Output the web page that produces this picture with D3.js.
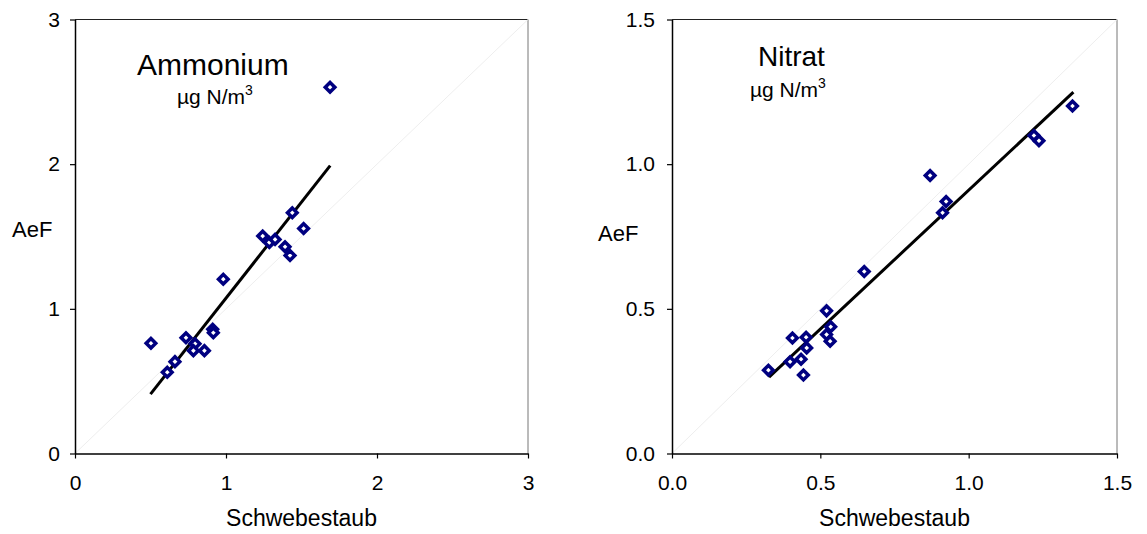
<!DOCTYPE html>
<html>
<head>
<meta charset="utf-8">
<script src="https://cdn.jsdelivr.net/npm/d3@7"></script>
<style>
  body { margin: 0; background: #fff; }
  svg { display: block; font-family: "Liberation Sans", Arial, sans-serif; }
</style>
</head>
<body>
<svg width="1147" height="534"></svg>
<script>
// Ammonium, µg N/m3 : Schwebestaub (x) vs AeF (y)
const ammX = [0.503, 0.611, 0.662, 0.735, 0.795, 0.784, 0.857, 0.912, 0.916, 0.982,
              1.243, 1.287, 1.325, 1.391, 1.424, 1.439, 1.514, 1.689];
const ammY = [0.762, 0.562, 0.635, 0.800, 0.758, 0.711, 0.711, 0.859, 0.835, 1.205,
              1.503, 1.459, 1.480, 1.429, 1.369, 1.664, 1.555, 2.532];
const ammTrendX = [0.50, 1.69];
const ammTrendY = [0.41, 1.99];
const ammTicks = [0, 1, 2, 3];

// Nitrat, µg N/m3
const nitX = [0.325, 0.398, 0.406, 0.435, 0.443, 0.452, 0.454, 0.521, 0.521, 0.535,
              0.533, 0.648, 0.870, 0.912, 0.924, 1.220, 1.237, 1.350];
const nitY = [0.288, 0.317, 0.399, 0.326, 0.271, 0.402, 0.365, 0.493, 0.411, 0.438,
              0.388, 0.629, 0.961, 0.832, 0.871, 1.099, 1.081, 1.201];
const nitTrendX = [0.327, 1.353];
const nitTrendY = [0.264, 1.249];
const nitTicks = [0, 0.5, 1.0, 1.5];

const panels = [
  { name: "Ammonium", xs: ammX, ys: ammY, tx: ammTrendX, ty: ammTrendY, ticks: ammTicks,
    max: 3, fmt: d3.format("d"), left: 75, right: 528, yPad: 10,
    title: { x: 137, y: 75, size: 30 }, unit: { x: 177, y: 104 },
    ylab: { x: 12, y: 237 } },
  { name: "Nitrat", xs: nitX, ys: nitY, tx: nitTrendX, ty: nitTrendY, ticks: nitTicks,
    max: 1.5, fmt: d3.format(".1f"), left: 672, right: 1117, yPad: 12,
    title: { x: 758, y: 66, size: 28 }, unit: { x: 750, y: 97 },
    ylab: { x: 598, y: 241 } }
];

const plotTop = 19.5, plotBottom = 453.5;
const svg = d3.select("svg");
const diamond = "M0,-4.8L4.8,0L0,4.8L-4.8,0Z";

panels.forEach(p => {
  const x = d3.scaleLinear().domain([0, p.max]).range([p.left, p.right]);
  const y = d3.scaleLinear().domain([0, p.max]).range([plotBottom, plotTop]);
  const g = svg.append("g");

  // frame top / right
  g.append("path")
    .attr("d", `M${x(0)},${y(p.max)}H${x(p.max)}`)
    .attr("fill", "none")
    .attr("stroke", "#222")
    .attr("stroke-width", 1);
  g.append("path")
    .attr("d", `M${x(p.max)},${y(p.max)}V${y(0)}`)
    .attr("fill", "none")
    .attr("stroke", "#777")
    .attr("stroke-width", 1);

  // 1:1 line
  g.append("line")
    .attr("x1", x(0)).attr("y1", y(0))
    .attr("x2", x(p.max)).attr("y2", y(p.max))
    .attr("stroke", "#eeeeee")
    .attr("stroke-width", 1);

  const gx = g.append("g")
    .attr("transform", `translate(0,${plotBottom})`)
    .call(d3.axisBottom(x).tickValues(p.ticks).tickFormat(p.fmt).tickSize(5).tickPadding(17).tickSizeOuter(0));
  const gy = g.append("g")
    .attr("transform", `translate(${p.left},0)`)
    .call(d3.axisLeft(y).tickValues(p.ticks).tickFormat(p.fmt).tickSize(5).tickPadding(p.yPad).tickSizeOuter(0));
  [gx, gy].forEach(a => {
    a.select(".domain").attr("stroke", "#000").attr("stroke-width", 1.5);
    a.selectAll(".tick line").attr("stroke", "#000").attr("stroke-width", 1.2);
    a.selectAll("text").attr("font-size", 21).attr("fill", "#000")
      .style("font-family", '"Liberation Sans", Arial, sans-serif');
  });

  // trend line
  g.append("path")
    .datum(d3.zip(p.tx, p.ty))
    .attr("d", d3.line().x(d => x(d[0])).y(d => y(d[1])))
    .attr("stroke", "#000")
    .attr("stroke-width", 3)
    .attr("fill", "none");

  // points
  g.append("g")
    .selectAll("path")
    .data(d3.zip(p.xs, p.ys))
    .join("path")
    .attr("transform", d => `translate(${x(d[0])},${y(d[1])})`)
    .attr("d", diamond)
    .attr("fill", "#fff")
    .attr("stroke", "#000080")
    .attr("stroke-width", 3.5);

  // titles
  g.append("text")
    .attr("x", p.title.x).attr("y", p.title.y)
    .attr("font-size", p.title.size)
    .text(p.name);
  const u = g.append("text")
    .attr("x", p.unit.x).attr("y", p.unit.y)
    .attr("font-size", 21);
  u.append("tspan").text("µg N/m");
  u.append("tspan").attr("font-size", 14).attr("dy", -9).text("3");

  // axis titles
  g.append("text")
    .attr("x", p.ylab.x).attr("y", p.ylab.y)
    .attr("font-size", 22)
    .text("AeF");
  g.append("text")
    .attr("x", (p.left + p.right) / 2).attr("y", 526)
    .attr("text-anchor", "middle")
    .attr("font-size", 23)
    .text("Schwebestaub");
});
</script>
</body>
</html>
